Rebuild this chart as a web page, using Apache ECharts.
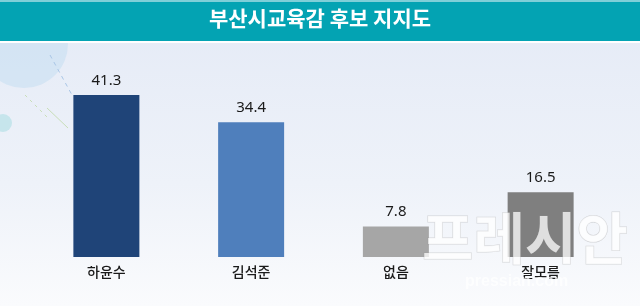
<!DOCTYPE html>
<html><head><meta charset="utf-8">
<script src="https://cdn.jsdelivr.net/npm/echarts@6/dist/echarts.min.js"></script>
<style>html,body{margin:0;padding:0;background:#fff}#c{width:640px;height:306px}</style>
</head><body><div id="c"></div>
<script>
const title = '부산시교육감 후보 지지도';
const categories = ['하윤수', '김석준', '없음', '잘모름'];
const values = [41.3, 34.4, 7.8, 16.5];
const barColors = ['#1F4478', '#4F7FBC', '#A6A6A6', '#7F7F7F'];

const chart = echarts.init(document.getElementById('c'));
chart.setOption({
  animation: false,
  backgroundColor: {
    type: 'linear', x: 0, y: 0, x2: 0, y2: 1,
    colorStops: [{offset: 0, color: '#E4EAF6'}, {offset: 0.6, color: '#EEF2F9'}, {offset: 1, color: '#FAFBFD'}]
  },
  graphic: [
    {type: 'circle', shape: {cx: 24, cy: 44, r: 44}, style: {fill: '#CFE2F2', opacity: 0.8}, z: -1},
    {type: 'circle', shape: {cx: 3, cy: 123, r: 9}, style: {fill: '#C6E5EC'}, z: -1},
    {type: 'line', shape: {x1: 50, y1: 55, x2: 72, y2: 95}, style: {stroke: '#A9C6E6', lineWidth: 1, lineDash: [4, 4]}, z: -1},
    {type: 'line', shape: {x1: 25, y1: 95, x2: 48, y2: 118}, style: {stroke: '#C8DEB8', lineWidth: 1, lineDash: [3, 4]}, z: -1},
    {type: 'line', shape: {x1: 47, y1: 108, x2: 68, y2: 128}, style: {stroke: '#C8DEB8', lineWidth: 1}, z: -1},
    {type: 'rect', shape: {x: 0, y: 0, width: 640, height: 41}, style: {fill: '#03A3B3'}, z: 10},
    {type: 'rect', shape: {x: 0, y: 0, width: 640, height: 2}, style: {fill: '#7FCFD8'}, z: 11},
    {type: 'rect', shape: {x: 0, y: 41, width: 640, height: 2}, style: {fill: '#FFFFFF'}, z: 11},
    {type: 'text', left: 'center', top: 8, z: 12,
      style: {text: title, fill: '#FFFFFF', font: 'bold 21px "Noto Sans CJK KR"'}},
    {type: 'text', x: 422, y: 210, z: 20,
      style: {text: '프레시안', fill: 'rgba(255,255,255,0.75)', stroke: 'rgba(150,150,150,0.35)', lineWidth: 1,
        font: 'bold 56px "Noto Sans CJK KR"'}},
    {type: 'text', x: 465, y: 274, z: 20,
      style: {text: 'pressian.com', fill: 'rgba(255,255,255,0.75)', font: 'bold 16px "Liberation Sans"'}}
  ],
  grid: {left: 34, right: 27, top: 61, bottom: 49, containLabel: false},
  xAxis: {
    type: 'category', data: categories,
    axisLine: {show: false}, axisTick: {show: false},
    axisLabel: {margin: 8, fontSize: 14, color: '#1a1a1a', fontWeight: 500, fontFamily: '"Noto Sans CJK KR"'}
  },
  yAxis: {type: 'value', min: 0, max: 50, show: false, splitLine: {show: false}},
  series: [{
    type: 'bar', barWidth: 66,
    data: values.map((v, i) => ({value: v, itemStyle: {color: barColors[i]}})),
    label: {show: true, position: 'top', distance: 7, fontSize: 15, color: '#1a1a1a',
      fontFamily: '"Noto Sans", sans-serif'}
  }]
});
</script></body></html>
